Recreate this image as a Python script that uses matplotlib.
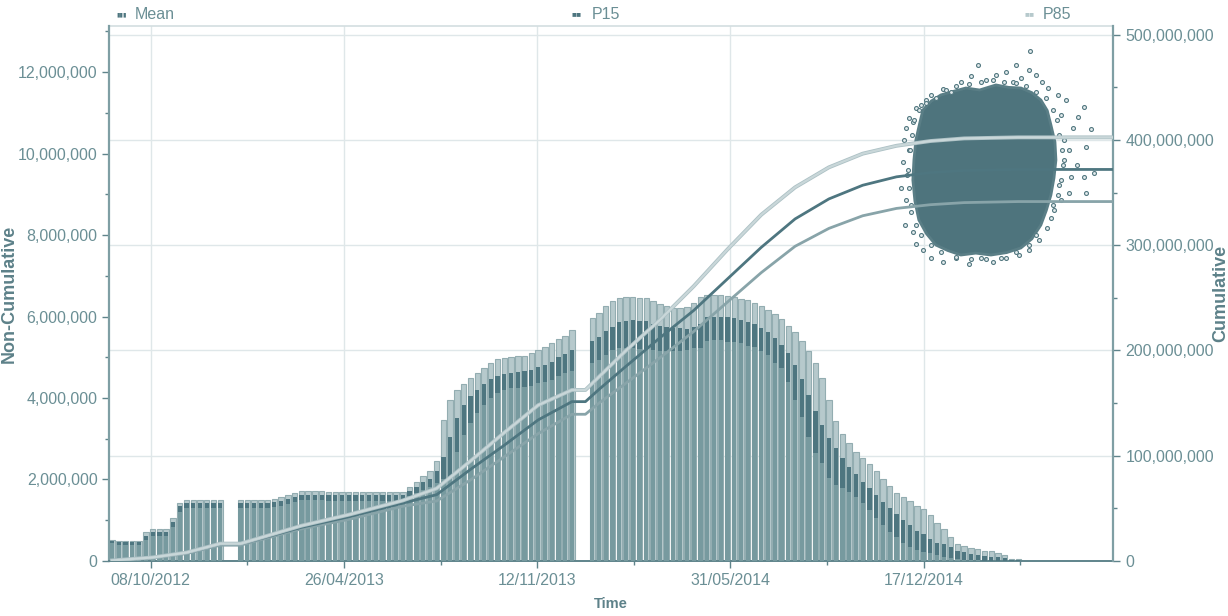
import numpy as np
import pandas as pd
import matplotlib
matplotlib.use('Agg')
import matplotlib.pyplot as plt
import matplotlib.dates as mdates
import matplotlib.patheffects as pe
from matplotlib.ticker import FuncFormatter, MultipleLocator, FixedLocator

plt.rcParams['font.family'] = ['Liberation Sans', 'DejaVu Sans']

# weekly non-cumulative values (millions), one bar per week
p85 = [0.52, 0.48, 0.48, 0.48, 0.48, 0.72, 0.78, 0.78, 0.78, 1.06,
       1.43, 1.50, 1.50, 1.50, 1.50, 1.50, 1.50, 0, 0, 1.50,
       1.50, 1.50, 1.50, 1.50, 1.52, 1.56, 1.62, 1.68, 1.73, 1.73,
       1.73, 1.73, 1.70, 1.70, 1.70, 1.70, 1.70, 1.70, 1.70, 1.70,
       1.70, 1.70, 1.70, 1.70, 1.81, 1.94, 2.09, 2.20, 2.45, 3.46,
       3.95, 4.20, 4.34, 4.48, 4.62, 4.74, 4.85, 4.95, 4.97, 5.00,
       5.03, 5.03, 5.10, 5.18, 5.26, 5.34, 5.44, 5.52, 5.67, 0,
       0, 5.96, 6.08, 6.27, 6.38, 6.45, 6.49, 6.49, 6.46, 6.45,
       6.38, 6.31, 6.26, 6.22, 6.22, 6.24, 6.32, 6.49, 6.54, 6.54,
       6.54, 6.51, 6.49, 6.43, 6.40, 6.32, 6.27, 6.16, 6.05, 5.93,
       5.77, 5.61, 5.40, 5.15, 4.87, 4.50, 3.95, 3.44, 3.12, 2.89,
       2.68, 2.52, 2.37, 2.21, 2.00, 1.84, 1.68, 1.58, 1.47, 1.35,
       1.27, 1.12, 0.93, 0.78, 0.58, 0.41, 0.38, 0.31, 0.29, 0.25,
       0.25, 0.19, 0.15, 0.04, 0.04]
mean = [0.50, 0.46, 0.46, 0.46, 0.46, 0.61, 0.72, 0.72, 0.72, 0.96,
        1.35, 1.42, 1.42, 1.42, 1.42, 1.42, 1.42, 0, 0, 1.42,
        1.42, 1.42, 1.42, 1.42, 1.44, 1.47, 1.52, 1.58, 1.63, 1.63,
        1.63, 1.63, 1.61, 1.61, 1.61, 1.61, 1.61, 1.61, 1.61, 1.61,
        1.61, 1.61, 1.61, 1.61, 1.72, 1.82, 1.93, 2.02, 2.20, 2.55,
        3.04, 3.52, 3.83, 4.06, 4.20, 4.34, 4.46, 4.54, 4.58, 4.62,
        4.65, 4.66, 4.69, 4.75, 4.81, 4.89, 5.00, 5.08, 5.18, 0,
        0, 5.40, 5.50, 5.64, 5.75, 5.86, 5.89, 5.91, 5.89, 5.88,
        5.81, 5.77, 5.75, 5.73, 5.72, 5.70, 5.75, 5.81, 5.98, 6.00,
        6.00, 5.98, 5.96, 5.91, 5.86, 5.81, 5.73, 5.63, 5.48, 5.30,
        5.10, 4.81, 4.46, 4.07, 3.68, 3.34, 3.01, 2.77, 2.52, 2.31,
        2.13, 1.95, 1.78, 1.62, 1.46, 1.29, 1.15, 1.01, 0.88, 0.74,
        0.66, 0.53, 0.43, 0.41, 0.35, 0.25, 0.23, 0.17, 0.15, 0.12,
        0.11, 0.09, 0.07, 0.02, 0.02]
p15 = [0.43, 0.40, 0.40, 0.40, 0.40, 0.52, 0.62, 0.62, 0.62, 0.84,
       1.21, 1.29, 1.29, 1.29, 1.29, 1.29, 1.29, 0, 0, 1.30,
       1.30, 1.30, 1.30, 1.30, 1.32, 1.35, 1.39, 1.44, 1.49, 1.49,
       1.49, 1.49, 1.48, 1.48, 1.48, 1.48, 1.48, 1.48, 1.48, 1.48,
       1.48, 1.48, 1.48, 1.48, 1.60, 1.68, 1.75, 1.82, 1.92, 2.00,
       2.07, 2.68, 3.09, 3.38, 3.62, 3.83, 3.99, 4.12, 4.20, 4.24,
       4.25, 4.28, 4.29, 4.36, 4.40, 4.44, 4.54, 4.61, 4.67, 0,
       0, 4.85, 4.93, 5.06, 5.18, 5.22, 5.22, 5.22, 5.20, 5.20,
       5.18, 5.16, 5.15, 5.15, 5.15, 5.18, 5.22, 5.22, 5.40, 5.42,
       5.42, 5.38, 5.38, 5.34, 5.28, 5.26, 5.15, 5.06, 4.85, 4.73,
       4.40, 3.95, 3.54, 3.05, 2.64, 2.40, 2.03, 1.87, 1.78, 1.70,
       1.58, 1.42, 1.25, 1.05, 0.88, 0.72, 0.60, 0.43, 0.35, 0.27,
       0.23, 0.19, 0.15, 0.11, 0.07, 0.04, 0.03, 0.02, 0.02, 0.01,
       0.01, 0, 0, 0, 0]
first_week = '2012-08-29'

# cumulative curves (millions), sampled at week indices, last value = axis end
cum_idx = [0, 6, 11, 16, 19, 28, 35, 43, 48, 53, 58, 63, 68, 70, 72, 76,
           81, 86, 91, 96, 101, 106, 111, 116, 121, 126, 134]
cum_mean = [0.5, 3.2, 7.5, 16, 16, 32, 42, 55, 63, 87, 110, 134, 151.4, 151.4,
            163, 185, 212, 238, 268, 298, 325, 344, 357, 365, 369, 371, 372, 372]
cum_p85 = [0.5, 3.4, 8.0, 16.5, 16.5, 33.5, 44, 57.5, 69, 95, 122, 148, 162.5,
           162.5, 175, 200, 229, 261, 296, 329, 355, 374, 387, 394.5, 399,
           401.5, 402.5, 402.5]
cum_p15 = [0.5, 3.0, 7.0, 15, 15, 30.5, 39.5, 52, 57, 77, 99, 121, 139.4, 139.4,
           150, 169, 193, 218, 246, 274, 299, 316, 328, 335, 338.5, 340.5,
           341.5, 341.5]
axis_start, axis_end = '2012-08-25 12:00', '2015-07-01'

# simulated end points: dense core outline + surrounding points
# x in days after 17/12/2014, y in millions
cloud_base = '2014-12-17'
core_days = [-0.7, 8.0, 17.9, 30.0, 43.8, 58.0, 74.9, 88.0, 100.7, 112.0,
             121.4, 128.0, 131.8, 136.0, 137, 135.0, 131.8, 127.0, 121.4, 112.0,
             100.7, 86.0, 69.7, 54.0, 38.6, 25.0, 12.7, 3.0, -4.9, -9.0,
             -11.1, -10.0, -8, -4.0]
core_vals = [428.5, 437.0, 442.8, 446.0, 449.4, 447.5, 452.3, 450.0, 449.4, 445.0,
             438, 428.0, 414.3, 398.0, 381, 364.0, 347.7, 333.0, 319.2, 306.0,
             297.4, 293.0, 290.7, 292.5, 290.7, 295.0, 300.2, 311.0, 324, 342.0,
             362, 381.0, 400, 416.0]
out_days = [110.1, 56.2, 95.6, 109.0, 74.9, 38.6, 20.0, 122.5, 128.7, 85.2,
            64.5, 100.7, 28.3, 7.6, 116.3, 49.0, 92.5,
            2.4, -8.0, -15.2, -18.3, -11.1, -2.8,
            -20.4, -15.2, -21.4, -17.3, -23.5, -18.3, -13.1, -19.4, -11.1, -8.0,
            -0.7, 7.6, 20.0, 33.4, 46.9, 59.3, 71.7, 85.2, 98.7, 109.0, 119.4, 127.7,
            134.9, 142.1, 150.4, 168.0, 152.5, 166.0, 176.3, 158.7, 145.3, 168.0,
            150.4, 145.3, 154.6, 173.2, 159.7, 166.0, 147.3, 139.0, 142.1, 140.1,
            131.8,
            12.7, 23.1, 33.4, 46.9, 59.3, 71.7, 83.1, 95.6, 105.9, 116.3, 126.6,
            133.9, 138.0, 140.1, 143.2, 144.3, 142.1, 139.0, 133.9,
            116.3, 109.0, 95.6, 80.0, 64.5, 49.0, 33.4, 17.9, 7.6,
            -2.8, -8.0, -13.1, -15.2, -16.3, -14.2, -12.1, -10.0, -4.9, 2.4]
out_vals = [484.6, 471.2, 471.2, 466.5, 461.7, 455.1, 448.4, 455.1, 449.4, 464.6,
            457.0, 458.9, 445.6, 442.7, 461.7, 460.8, 455.1,
            438.0, 430.4, 420.9, 411.4, 417.1, 433.2,
            400.0, 390.5, 379.1, 366.7, 354.4, 343.0, 331.6, 319.2, 312.6, 301.2,
            295.5, 287.9, 284.1, 287.9, 282.2, 287.9, 284.1, 287.9, 290.7, 295.5,
            305.0, 316.4,
            333.5, 343.0, 349.6, 349.6, 364.8, 364.8, 368.6, 376.2, 381.0, 393.3,
            390.5, 400.0, 411.4, 410.4, 421.8, 431.3, 438.0, 442.7, 423.7, 357.2,
            325.9,
            439.9, 447.5, 451.3, 453.2, 455.1, 457.0, 455.1, 454.2, 451.3, 445.6, 439.9,
            428.5, 419.0, 404.7, 390.5, 376.2, 362.0, 347.7, 338.2,
            309.7, 300.2, 293.6, 287.9, 286.9, 286.9, 288.8, 293.6, 300.2,
            309.7, 319.2, 338.2, 354.4, 371.5, 390.5, 404.7, 419.0, 428.5, 435.2]

major_dates = ['2012-10-08', '2013-04-26', '2013-11-12', '2014-05-31', '2014-12-17']
minor_dates = ['2013-01-16', '2013-08-04', '2014-02-20', '2014-09-08', '2015-03-27']

# colours
c_light = '#b6c9cc'
c_dark = '#4e7680'
c_mid = '#779a9f'
c_text = '#6b8f95'
c_axis = '#5f848b'
c_grid = '#dfe7e9'

weeks = pd.date_range(first_week, periods=len(p85), freq='7D')
wx = mdates.date2num(weeks)
p85 = np.array(p85)
mean = np.array(mean)
p15 = np.array(p15)
has = p85 > 0

fig = plt.figure(figsize=(12.28, 6.16), dpi=100)
rect = [0.0885, 0.0893, 0.8178, 0.8685]
axg = fig.add_axes(rect)
ax = fig.add_axes(rect, sharex=axg)
ax.patch.set_visible(False)
ax2 = ax.twinx()

xlo = mdates.date2num(pd.Timestamp(axis_start))
xhi = mdates.date2num(pd.Timestamp(axis_end))
ylo_max = 13.13
yr_max = 508.3

# grid layer
axg.set_xlim(xlo, xhi)
axg.set_ylim(0, yr_max)
axg.yaxis.set_major_locator(MultipleLocator(100))
axg.xaxis.set_major_locator(FixedLocator(mdates.date2num(pd.to_datetime(major_dates))))
axg.grid(True, color=c_grid, lw=1.0)
axg.tick_params(left=False, bottom=False, labelleft=False, labelbottom=False)
for s in axg.spines.values():
    s.set_visible(False)

# bars
ax.bar(wx[has], p85[has], width=5.6, color=c_light, edgecolor='#93adb1', lw=0.8, zorder=2)
ax.bar(wx[has], mean[has], width=4.4, color=c_dark, lw=0, zorder=3)
ax.bar(wx[has], p15[has], width=4.4, color=c_mid, lw=0, zorder=4)

ax.set_xlim(xlo, xhi)
ax.set_ylim(0, ylo_max)
ax.yaxis.set_major_locator(MultipleLocator(2))
ax.yaxis.set_minor_locator(MultipleLocator(1))
ax.yaxis.set_major_formatter(FuncFormatter(lambda v, p: f'{v * 1e6:,.0f}'))
ax.xaxis.set_major_locator(FixedLocator(mdates.date2num(pd.to_datetime(major_dates))))
ax.xaxis.set_minor_locator(FixedLocator(mdates.date2num(pd.to_datetime(minor_dates))))
ax.xaxis.set_major_formatter(mdates.DateFormatter('%d/%m/%Y'))

# cumulative lines and simulation cloud
cx = list(wx[cum_idx]) + [xhi]
base = pd.Timestamp(cloud_base)
core_x = mdates.date2num([base + pd.Timedelta(days=d) for d in core_days])
out_x = mdates.date2num([base + pd.Timedelta(days=d) for d in out_days])
ax2.fill(core_x, core_vals, color='#4e747d', lw=2.0, ec='#5a7e86', zorder=2)
ax2.scatter(out_x, out_vals, s=8, marker='o', facecolors='#e4ecee',
            edgecolors='#52777f', linewidths=0.8, zorder=3)
ax2.plot(cx, cum_p15, color='#88a4a9', lw=2.0, zorder=4)
ax2.plot(cx, cum_mean, color=c_dark, lw=2.0, zorder=4)
ax2.plot(cx, cum_p85, color='#c9d7d9', lw=1.6, zorder=5,
         path_effects=[pe.Stroke(linewidth=2.8, foreground='#adc1c5'), pe.Normal()])
ax2.set_ylim(0, yr_max)
ax2.yaxis.set_major_locator(MultipleLocator(100))
ax2.yaxis.set_minor_locator(MultipleLocator(50))
ax2.yaxis.set_major_formatter(FuncFormatter(lambda v, p: f'{v * 1e6:,.0f}'))

# axis styling
for a in (ax, ax2):
    for s in a.spines.values():
        s.set_visible(False)
ax.spines['left'].set_visible(True)
ax.spines['left'].set_color('#7f9fa4')
ax.spines['left'].set_linewidth(1.6)
ax.spines['bottom'].set_visible(True)
ax.spines['bottom'].set_color(c_axis)
ax.spines['bottom'].set_linewidth(1.4)
ax2.spines['right'].set_visible(True)
ax2.spines['right'].set_color('#7f9fa4')
ax2.spines['right'].set_linewidth(1.6)
axg.spines['top'].set_visible(True)
axg.spines['top'].set_color('#d3dee0')
axg.spines['top'].set_linewidth(1.2)

ax.tick_params(axis='y', which='major', length=5, width=1, color=c_axis,
               labelcolor=c_text, labelsize=11.5, pad=3)
ax.tick_params(axis='y', which='minor', length=3, width=1, color=c_axis)
ax.tick_params(axis='x', which='major', length=5, width=1, color=c_axis,
               labelcolor=c_text, labelsize=11.5, pad=4)
ax.tick_params(axis='x', which='minor', length=3, width=1, color=c_axis)
ax2.tick_params(axis='y', which='major', length=5, width=1, color=c_axis,
                labelcolor=c_text, labelsize=11.5, pad=4)
ax2.tick_params(axis='y', which='minor', length=3, width=1, color=c_axis)

ax.set_xlabel('Time', color='#5d8189', fontsize=10.5, fontweight='bold')
ax.xaxis.set_label_coords(0.5, -0.068)
ax.set_ylabel('Non-Cumulative', color='#5d8189', fontsize=13, fontweight='bold')
ax.yaxis.set_label_coords(-0.091, 0.5)
ax2.set_ylabel('Cumulative', color='#5d8189', fontsize=13, fontweight='bold',
               rotation=90)
ax2.yaxis.set_label_coords(1.099, 0.5)

# legend
fig.text(0.0945, 0.976, '▮▮▮', color=c_dark, fontsize=4.5, va='center')
fig.text(0.110, 0.976, 'Mean', color=c_text, fontsize=11.5, va='center')
fig.text(0.465, 0.976, '■■', color=c_dark, fontsize=6, va='center')
fig.text(0.482, 0.976, 'P15', color=c_text, fontsize=11.5, va='center')
fig.text(0.834, 0.976, '■■', color=c_light, fontsize=6, va='center')
fig.text(0.849, 0.976, 'P85', color=c_text, fontsize=11.5, va='center')

fig.savefig('out.png', dpi=100)
